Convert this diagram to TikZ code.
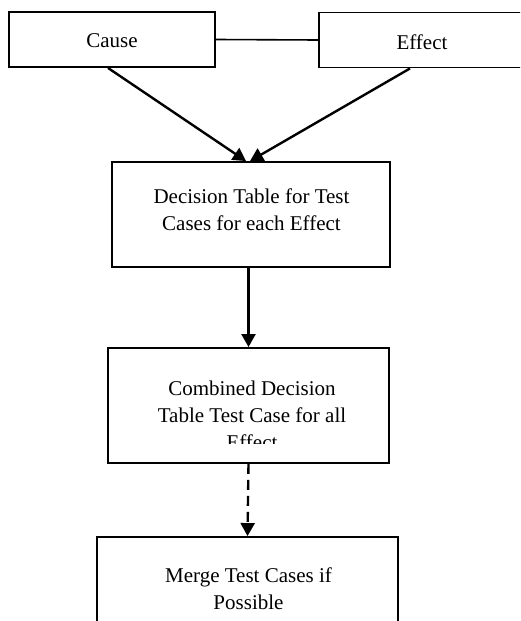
\documentclass[tikz,border=0pt]{standalone}
\usepackage{fontspec}
\setmainfont{Liberation Serif}
\usetikzlibrary{arrows.meta}
\begin{document}
\begin{tikzpicture}[x=1pt,y=-1pt,
  box/.style={draw=black,line width=1.9pt,rectangle,inner sep=0pt},
  lbl/.style={align=center,inner sep=0pt,font=\fontsize{21}{27}\selectfont},
  arr/.style={line width=2.4pt,-{Triangle[width=14pt,length=13pt]}},
  darr/.style={arr,dash pattern=on 10pt off 6pt}]
\clip (0,0) rectangle (520,621);
\fill[white] (0,0) rectangle (520,621);
% boxes
\node[box,minimum width=206pt,minimum height=55pt] (cause) at (112,39.5) {};
\node[box,minimum width=260pt,minimum height=55pt] (effect) at (449,40) {};
\node[box,minimum width=278pt,minimum height=105pt] (dec) at (251,214.5) {};
\node[box,minimum width=281pt,minimum height=115pt] (comb) at (248.5,405.5) {};
\node[box,minimum width=301pt,minimum height=110pt] (merge) at (247.5,592) {};
% texts
\node[lbl] (tcause) at (112,41) {Cause};
\node[lbl] (teffect) at (422,42) {Effect};
\node[lbl] (tdec) at (251.5,210) {Decision Table for Test\\Cases for each Effect};
\begin{scope}
\clip (comb.north west) rectangle ([yshift=20pt]comb.south east);
\node[lbl,anchor=north] (tcomb) at (252,381) {Combined Decision\\Table Test Case for all\\Effect};
\end{scope}
\node[lbl] (tmerge) at (248.5,589) {Merge Test Cases if\\Possible};
% connectors
\draw[line width=1.6pt] (cause.east) -- (effect.west);
\draw[arr] ([xshift=-4pt]cause.south) -- ([xshift=-5pt]dec.north);
\draw[arr] ([xshift=-39pt]effect.south) -- ([xshift=-1pt]dec.north);
\draw[arr] (comb.north |- dec.south) -- (comb.north);
\draw[darr] (comb.south) -- (merge.north);
\end{tikzpicture}
\end{document}
